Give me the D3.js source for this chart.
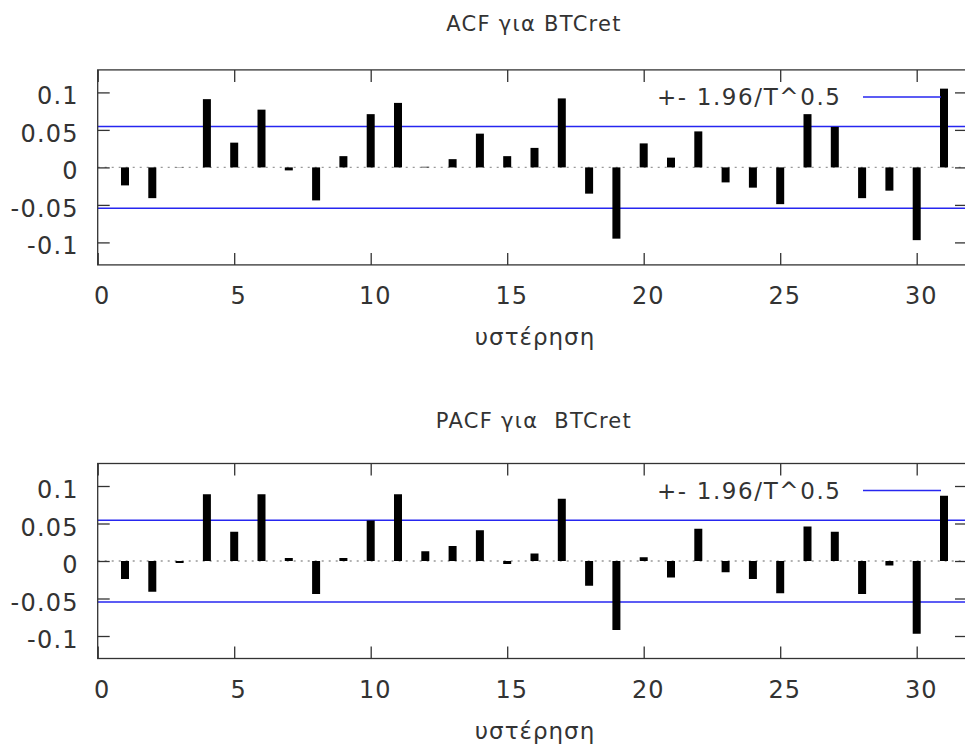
<!DOCTYPE html>
<html>
<head>
<meta charset="utf-8">
<script src="https://cdn.jsdelivr.net/npm/d3@7"></script>
<style>
  html, body { margin: 0; padding: 0; background: #fff; }
  svg { display: block; }
  text { font-family: "DejaVu Sans", sans-serif; fill: #333; }
</style>
</head>
<body>
<svg id="chart" width="965" height="749"></svg>
<script>
// ---- data ----
const lags = [1,2,3,4,5,6,7,8,9,10,11,12,13,14,15,16,17,18,19,20,21,22,23,24,25,26,27,28,29,30,31];
const acfValues = [-0.024,-0.041,0.0003,0.091,0.033,0.077,-0.004,-0.044,0.015,0.071,0.086,0.0008,0.011,0.045,0.015,0.026,0.092,-0.035,-0.095,0.032,0.013,0.048,-0.020,-0.027,-0.049,0.071,0.054,-0.041,-0.031,-0.097,0.105];
const pacfValues = [-0.024,-0.041,-0.002,0.089,0.039,0.089,0.004,-0.044,0.004,0.054,0.089,0.013,0.020,0.041,-0.004,0.010,0.083,-0.033,-0.092,0.005,-0.022,0.043,-0.015,-0.024,-0.043,0.046,0.039,-0.044,-0.006,-0.097,0.087];
const bandValue = 0.0545; // 1.96/T^0.5
const xTickValues = [0,5,10,15,20,25,30];
const yTickValues = [-0.1,-0.05,0,0.05,0.1];
const yTickLabels = ["-0.1","-0.05","0","0.05","0.1"];
const titles = ["ACF για BTCret", "PACF για  BTCret"];
const xAxisLabel = "υστέρηση";
const legendLabel = "+- 1.96/T^0.5";

// ---- layout ----
const svg = d3.select("#chart");
svg.append("rect").attr("width", 965).attr("height", 749).attr("fill", "#fff");

const left = 97.7, right = 967;
const xFull = d3.scaleLinear().domain([0, 30]).range([left, 916.7]);

const panels = [
  { values: acfValues, zero: 167.4, title: titles[0], titleY: 31 },
  { values: pacfValues, zero: 561.0, title: titles[1], titleY: 428 }
];

panels.forEach(p => {
  const top = p.zero - 0.13 * 750, bottom = p.zero + 0.13 * 750;
  const y = d3.scaleLinear().domain([-0.13, 0.13]).range([bottom, top]);
  const g = svg.append("g");

  // title
  g.append("text")
    .attr("x", 534).attr("y", p.titleY)
    .attr("text-anchor", "middle")
    .attr("xml:space", "preserve")
    .style("white-space", "pre")
    .style("font-size", "21px").style("letter-spacing", "1.3px")
    .text(p.title);

  // zero line
  g.append("line")
    .attr("x1", left).attr("x2", right)
    .attr("y1", y(0)).attr("y2", y(0))
    .attr("stroke", "#999").attr("stroke-width", 1.3)
    .attr("stroke-dasharray", "2,5");

  // band lines
  [bandValue, -bandValue].forEach(b => {
    g.append("line")
      .attr("x1", left).attr("x2", right)
      .attr("y1", y(b)).attr("y2", y(b))
      .attr("stroke", "#2626f0").attr("stroke-width", 1.5);
  });

  // bars
  const barH = d => {
    const h = Math.abs(y(d.v) - y(0));
    return Math.abs(d.v) >= 0.002 ? Math.max(2, h) : h;
  };
  g.selectAll("rect.bar").data(lags.map((l, i) => ({ lag: l, v: p.values[i] })))
    .enter().append("rect").attr("class", "bar")
    .attr("x", d => xFull(d.lag) - 4)
    .attr("width", 8)
    .attr("y", d => d.v >= 0 ? y(0) - barH(d) : y(0))
    .attr("height", d => barH(d))
    .attr("fill", "#000");

  // axes
  const xb = d3.axisBottom(xFull).tickValues(xTickValues).tickSizeInner(-12).tickSizeOuter(0).tickPadding(22);
  const xt = d3.axisTop(xFull).tickValues(xTickValues).tickSizeInner(-12).tickSizeOuter(0).tickFormat("");
  const yl = d3.axisLeft(y).tickValues(yTickValues).tickSizeInner(-12).tickSizeOuter(0).tickPadding(19)
    .tickFormat((d, i) => yTickLabels[i]);
  const yr = d3.axisRight(y).tickValues(yTickValues).tickSizeInner(-12).tickSizeOuter(0).tickFormat("");

  const gxb = g.append("g").attr("transform", `translate(0,${bottom})`).call(xb);
  const gxt = g.append("g").attr("transform", `translate(0,${top})`).call(xt);
  const gyl = g.append("g").attr("transform", `translate(${left},0)`).call(yl);
  const gyr = g.append("g").attr("transform", `translate(${right},0)`).call(yr);
  [gxb, gxt, gyl, gyr].forEach(a => {
    a.select(".domain").remove();
    a.selectAll(".tick line").attr("stroke", "#333").attr("stroke-width", 1.3);
    a.selectAll(".tick text").attr("fill", "#333").style("font-family", "DejaVu Sans, sans-serif").style("font-size", "24px");
  });
  gxb.selectAll(".tick text").attr("dx", 4).style("letter-spacing", "1px");
  gyl.selectAll(".tick text").attr("dy", 11.5).style("letter-spacing", "1.2px");

  // frame
  g.append("rect")
    .attr("x", left).attr("y", top)
    .attr("width", right - left).attr("height", bottom - top)
    .attr("fill", "none").attr("stroke", "#333").attr("stroke-width", 1.3);

  // x label
  g.append("text")
    .attr("x", 535).attr("y", bottom + 80)
    .attr("text-anchor", "middle")
    .style("font-size", "23px").style("letter-spacing", "1px")
    .text(xAxisLabel);

  // legend
  g.append("text")
    .attr("x", 657).attr("y", top + 35.5)
    .style("font-size", "23px").style("letter-spacing", "1.6px")
    .text(legendLabel);
  g.append("line")
    .attr("x1", 863).attr("x2", 941)
    .attr("y1", top + 27).attr("y2", top + 27)
    .attr("stroke", "#2626f0").attr("stroke-width", 1.5);
});
</script>
</body>
</html>
